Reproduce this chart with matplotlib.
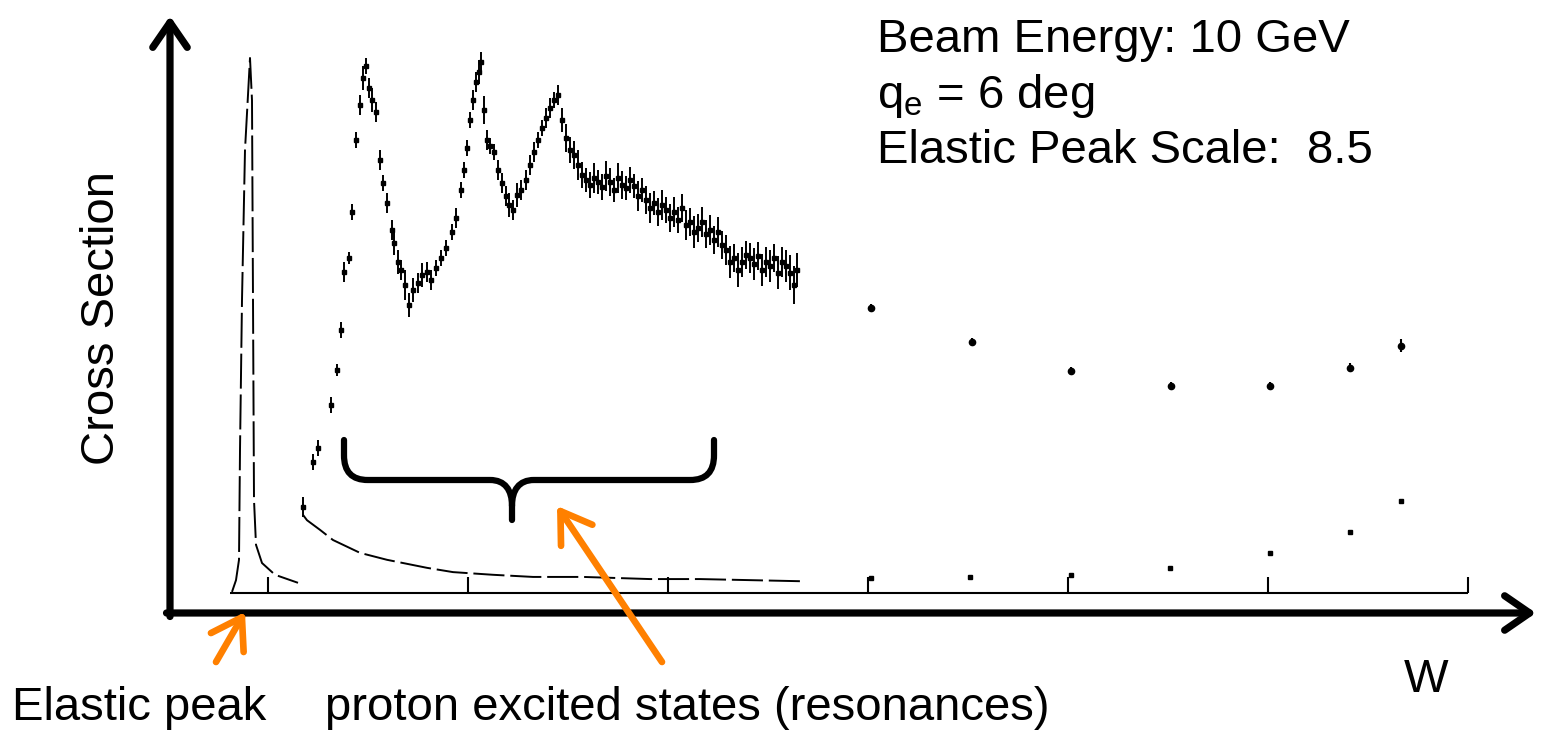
import matplotlib
matplotlib.use("Agg")
import matplotlib.pyplot as plt
from matplotlib.path import Path
from matplotlib.patches import PathPatch, FancyArrowPatch, ArrowStyle

plt.rcParams['font.family'] = ['Liberation Sans', 'DejaVu Sans']
plt.rcParams['mathtext.fontset'] = 'custom'
plt.rcParams['mathtext.rm'] = 'Liberation Sans'
plt.rcParams['mathtext.it'] = 'Liberation Sans'

# ---------------------------------------------------------------- data
# elastic peak (W in GeV, cross section in arbitrary units)
elastic_W = [0.910, 0.920, 0.9275, 0.930, 0.935, 0.9425, 0.955, 0.960, 0.9625,
             0.965, 0.970, 0.985, 1.0175, 1.075]
elastic_xs = [0.02, 0.24, 0.62, 2.67, 5.48, 8.28, 10.0, 9.21, 5.48,
              1.74, 0.90, 0.56, 0.34, 0.19]

# radiative tail below the resonance region
tail_W = [1.0875, 1.0975, 1.13, 1.1625, 1.23, 1.2975, 1.3975, 1.4625, 1.5625,
          1.6625, 1.7875, 1.955, 2.08, 2.205, 2.33]
tail_xs = [1.46, 1.36, 1.18, 0.99, 0.75, 0.62, 0.47, 0.39, 0.34,
           0.30, 0.30, 0.26, 0.26, 0.24, 0.22]

# resonance region measurements
res_W = [1.0875, 1.1125, 1.125, 1.1575, 1.1725, 1.1825, 1.19, 1.2025, 1.21, 1.22,
         1.23, 1.2375, 1.245, 1.2525, 1.26, 1.27, 1.28, 1.2875, 1.2975, 1.31,
         1.315, 1.325, 1.3325, 1.3425, 1.3525, 1.3625, 1.375, 1.385, 1.3975, 1.4075,
         1.42, 1.4325, 1.445, 1.46, 1.47, 1.4825, 1.49, 1.4975, 1.505, 1.5125,
         1.52, 1.5275, 1.5325, 1.54, 1.5475, 1.555, 1.565, 1.575, 1.585, 1.595,
         1.6025, 1.6125, 1.6225, 1.6325, 1.645, 1.655, 1.665, 1.675, 1.685, 1.695,
         1.705, 1.715, 1.725, 1.735, 1.745, 1.755, 1.765, 1.775, 1.785, 1.795,
         1.805, 1.815, 1.825, 1.835, 1.845, 1.855, 1.865, 1.875, 1.885, 1.895,
         1.905, 1.915, 1.925, 1.935, 1.945, 1.955, 1.965, 1.975, 1.985, 1.995,
         2.005, 2.015, 2.025, 2.035, 2.045, 2.055, 2.065, 2.075, 2.085, 2.095,
         2.105, 2.115, 2.125, 2.135, 2.145, 2.155, 2.165, 2.175, 2.185, 2.195,
         2.205, 2.215, 2.225, 2.235, 2.245, 2.255, 2.265, 2.275, 2.285, 2.295,
         2.305, 2.315, 2.3225]
res_xs = [1.61, 2.45, 2.71, 3.51, 4.17, 4.92, 6.00, 6.26, 7.12, 8.47,
          9.12, 9.63, 9.85, 9.44, 9.21, 8.99, 8.09, 7.66, 7.29, 6.79,
          6.54, 6.19, 6.04, 5.76, 5.38, 5.66, 5.79, 5.94, 6.00, 5.85,
          6.07, 6.26, 6.45, 6.75, 7.01, 7.53, 7.91, 8.32, 8.84, 9.21,
          9.55, 9.74, 9.93, 9.03, 8.47, 8.36, 8.24, 7.91, 7.66, 7.42,
          7.25, 7.16, 7.44, 7.53, 7.72, 8.00, 8.24, 8.47, 8.69, 8.88,
          9.07, 9.21, 9.31, 8.84, 8.50, 8.28, 8.19, 8.00, 7.81, 7.72,
          7.63, 7.76, 7.68, 7.59, 7.79, 7.68, 7.53, 7.76, 7.63, 7.57,
          7.72, 7.61, 7.42, 7.53, 7.35, 7.20, 7.29, 7.12, 7.25, 7.16,
          7.01, 7.12, 6.97, 7.20, 6.88, 6.93, 6.75, 6.82, 6.93, 6.71,
          6.79, 6.60, 6.75, 6.50, 6.41, 6.19, 6.26, 6.04, 6.19, 6.32,
          6.26, 6.15, 6.30, 6.04, 6.19, 6.11, 6.26, 5.99, 6.19, 6.11,
          5.99, 5.76, 6.04]
res_err = [0.19, 0.15, 0.15, 0.15, 0.11, 0.15, 0.19, 0.11, 0.15, 0.15,
           0.19, 0.22, 0.15, 0.19, 0.22, 0.19, 0.19, 0.15, 0.19, 0.19,
           0.22, 0.22, 0.19, 0.28, 0.22, 0.22, 0.19, 0.22, 0.19, 0.19,
           0.15, 0.15, 0.15, 0.15, 0.19, 0.15, 0.15, 0.15, 0.15, 0.19,
           0.19, 0.22, 0.19, 0.26, 0.19, 0.15, 0.15, 0.19, 0.19, 0.19,
           0.22, 0.19, 0.22, 0.19, 0.19, 0.19, 0.19, 0.15, 0.15, 0.19,
           0.19, 0.15, 0.19, 0.22, 0.26, 0.24, 0.26, 0.28, 0.24, 0.22,
           0.24, 0.28, 0.22, 0.24, 0.28, 0.26, 0.22, 0.28, 0.26, 0.22,
           0.24, 0.22, 0.28, 0.22, 0.26, 0.28, 0.22, 0.26, 0.28, 0.24,
           0.26, 0.28, 0.24, 0.26, 0.28, 0.26, 0.30, 0.26, 0.28, 0.26,
           0.28, 0.26, 0.28, 0.26, 0.28, 0.30, 0.26, 0.32, 0.28, 0.26,
           0.28, 0.30, 0.26, 0.30, 0.28, 0.30, 0.26, 0.30, 0.28, 0.30,
           0.32, 0.36, 0.32]

# deep-inelastic points at higher W (upper and lower sets)
dis_W = [2.5075, 2.76, 3.0075, 3.2575, 3.505, 3.705, 3.8325]
dis_xs = [5.33, 4.69, 4.15, 3.87, 3.87, 4.21, 4.62]
dis_err = [0.08, 0.08, 0.07, 0.08, 0.08, 0.08, 0.12]

low_W = [2.5075, 2.755, 3.0075, 3.255, 3.505, 3.705, 3.8325]
low_xs = [0.28, 0.30, 0.34, 0.47, 0.75, 1.14, 1.72]

# original frame of the scanned plot
frame_ticks = [1.0, 1.5, 2.0, 2.5, 3.0, 3.5, 4.0]
frame_W_range = [0.905, 4.0]

# ---------------------------------------------------------------- figure
FW, FH = 1542, 734
fig = plt.figure(figsize=(FW / 100, FH / 100), dpi=100)
ax = fig.add_axes([0, 0, 1, 1])
ax.set_xlim(0.33, 4.185)
ax.set_ylim(-2.636, 11.084)
ax.axis('off')


def fx(px):
    return px / FW


def fy(py):
    return 1 - py / FH


ink = 'black'

# inner frame line and ticks of the data plot
ax.plot(frame_W_range, [0, 0], color=ink, lw=1.5, solid_capstyle='butt')
ax.vlines(frame_ticks, 0, 0.3, color=ink, lw=1.5)

# elastic peak and radiative tail
ax.plot(elastic_W, elastic_xs, color=ink, lw=1.4, ls=(0, (18, 3)))
ax.plot(tail_W, tail_xs, color=ink, lw=1.4, ls=(0, (16, 3)))

# resonance measurements
ax.errorbar(res_W, res_xs, yerr=res_err, fmt='s', ms=3.0, color=ink,
            ecolor=ink, elinewidth=1.4, capsize=0)

# higher W points
ax.errorbar(dis_W, dis_xs, yerr=dis_err, fmt='o', ms=4.5, color=ink,
            ecolor=ink, elinewidth=1.5, capsize=0)
ax.plot(low_W, low_xs, ls='none', marker='s', ms=3.5, color=ink)

# axis arrows
axis_style = ArrowStyle('->', head_length=0.9, head_width=0.62)
for a, b in [((170, 616.5), (170, 16)), ((166.5, 613), (1536, 613))]:
    fig.add_artist(FancyArrowPatch((fx(a[0]), fy(a[1])), (fx(b[0]), fy(b[1])),
                                   transform=fig.transFigure,
                                   arrowstyle=axis_style, mutation_scale=20,
                                   lw=5.2, color=ink, shrinkA=0, shrinkB=0,
                                   capstyle='round', joinstyle='round'))

# orange pointers
orange = '#FF8000'
ptr_style = ArrowStyle('->', head_length=1.05, head_width=0.68)
for a, b in [((216, 662), (245, 612)), ((662, 662), (557, 506))]:
    fig.add_artist(FancyArrowPatch((fx(a[0]), fy(a[1])), (fx(b[0]), fy(b[1])),
                                   transform=fig.transFigure,
                                   arrowstyle=ptr_style, mutation_scale=20,
                                   lw=4.8, color=orange, shrinkA=0, shrinkB=0,
                                   capstyle='round', joinstyle='round'))

# curly brace over the resonance region
brace_px = [
    ((344, 440), Path.MOVETO), ((344, 455), Path.LINETO),
    ((344, 472), Path.CURVE4), ((352, 480), Path.CURVE4), ((368, 480), Path.CURVE4),
    ((490, 480), Path.LINETO),
    ((505, 480), Path.CURVE4), ((512, 490), Path.CURVE4), ((512, 506), Path.CURVE4),
    ((512, 520), Path.LINETO),
    ((512, 506), Path.MOVETO),
    ((512, 490), Path.CURVE4), ((519, 480), Path.CURVE4), ((534, 480), Path.CURVE4),
    ((690, 480), Path.LINETO),
    ((706, 480), Path.CURVE4), ((714, 472), Path.CURVE4), ((714, 455), Path.CURVE4),
    ((714, 440), Path.LINETO),
]
brace = Path([(fx(x), fy(y)) for (x, y), _ in brace_px], [c for _, c in brace_px])
fig.add_artist(PathPatch(brace, transform=fig.transFigure, fill=False,
                         lw=4.5, edgecolor=ink, capstyle='round', joinstyle='round'))

# labels
fs = 34
fig.text(fx(102), fy(318), 'Cross Section', rotation=90, ha='center', va='center',
         fontsize=fs)
fig.text(fx(1426), fy(692), 'W', ha='center', va='baseline', fontsize=fs)
fig.text(fx(12), fy(720), 'Elastic peak', ha='left', va='baseline', fontsize=fs)
fig.text(fx(325), fy(720), 'proton excited states (resonances)', ha='left',
         va='baseline', fontsize=fs)

fig.text(fx(877), fy(52), 'Beam Energy: 10 GeV', ha='left', va='baseline', fontsize=fs)
fig.text(fx(877), fy(107.5), r'q$_\mathrm{e}$ = 6 deg', ha='left', va='baseline',
         fontsize=fs)
fig.text(fx(877), fy(163), 'Elastic Peak Scale:  8.5', ha='left', va='baseline',
         fontsize=fs)

fig.savefig('out.png', dpi=100, facecolor='white')
